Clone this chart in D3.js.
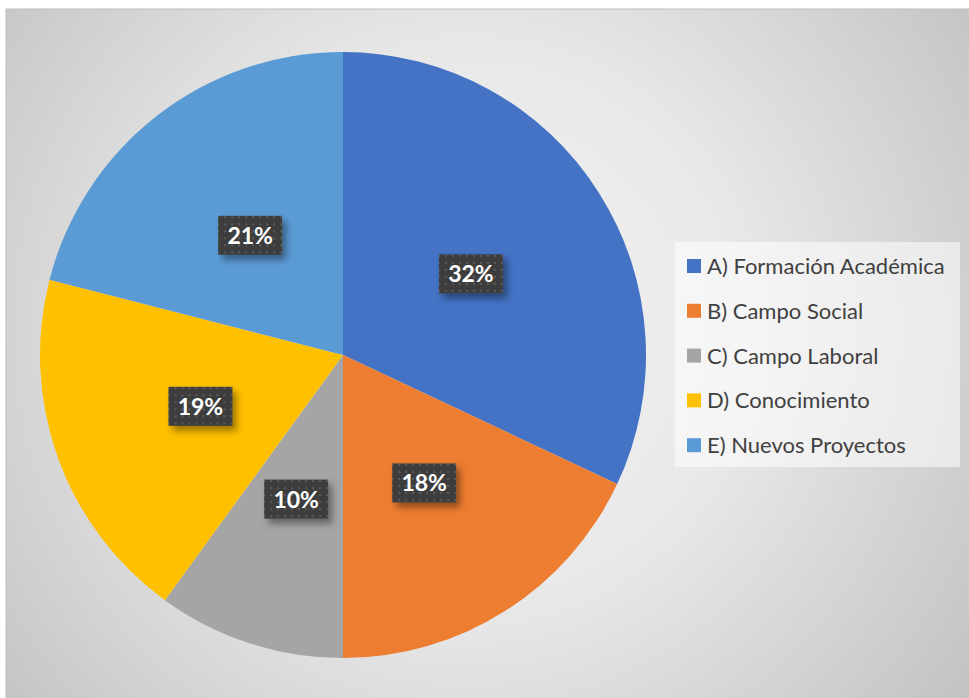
<!DOCTYPE html>
<html>
<head>
<meta charset="utf-8">
<script src="https://cdn.jsdelivr.net/npm/d3@7"></script>
<style>
  html, body { margin: 0; padding: 0; background: #ffffff; }
  svg { display: block; }
</style>
</head>
<body>
<div id="chart"></div>
<script>
// Chart data
const categories = ["A) Formación Académica", "B) Campo Social", "C) Campo Laboral", "D) Conocimiento", "E) Nuevos Proyectos"];
const percentages = [32, 18, 10, 19, 21];
const colors = ["#4472C4", "#ED7D31", "#A5A5A5", "#FFC000", "#5B9BD5"];

const width = 969, height = 698;
const frame = { x: 6, y: 9, w: 970, h: 700 };
const cx = 343, cy = 355, radius = 303;

const svg = d3.select("#chart").append("svg")
  .attr("width", width)
  .attr("height", height);

const defs = svg.append("defs");

// background gradient
const bg = defs.append("radialGradient")
  .attr("id", "bg-grad")
  .attr("gradientUnits", "userSpaceOnUse")
  .attr("cx", 470).attr("cy", 330).attr("r", 620);
bg.append("stop").attr("offset", "0%").attr("stop-color", "#f4f4f4");
bg.append("stop").attr("offset", "45%").attr("stop-color", "#e8e8e8");
bg.append("stop").attr("offset", "100%").attr("stop-color", "#c2c2c2");

// dotted pattern for the data label boxes
const pat = defs.append("pattern")
  .attr("id", "dots")
  .attr("patternUnits", "userSpaceOnUse")
  .attr("width", 7).attr("height", 7);
pat.append("rect").attr("width", 7).attr("height", 7).attr("fill", "#3e3e3e");
pat.append("rect").attr("x", 2).attr("y", 2).attr("width", 2).attr("height", 2).attr("fill", "#5a5a5a");

const shadow = defs.append("filter")
  .attr("id", "shadow")
  .attr("x", "-30%").attr("y", "-30%").attr("width", "170%").attr("height", "170%");
shadow.append("feDropShadow")
  .attr("dx", 4).attr("dy", 5).attr("stdDeviation", 3.5)
  .attr("flood-color", "#000").attr("flood-opacity", 0.4);

svg.append("rect")
  .attr("x", frame.x).attr("y", frame.y)
  .attr("width", frame.w).attr("height", frame.h)
  .attr("fill", "url(#bg-grad)")
  .attr("stroke", "#bdbdbd")
  .attr("stroke-width", 1);

// Pie
const pie = d3.pie().sort(null).value(d => d.value);
const arcs = pie(categories.map((c, i) => ({ name: c, value: percentages[i], color: colors[i] })));
const arc = d3.arc().innerRadius(0).outerRadius(radius);

const g = svg.append("g").attr("transform", `translate(${cx},${cy})`);

g.selectAll("path.slice")
  .data(arcs)
  .enter()
  .append("path")
  .attr("class", "slice")
  .attr("d", arc)
  .attr("fill", d => d.data.color);

// data labels
const boxW = 64, boxH = 39;
const labels = g.selectAll("g.label")
  .data(arcs)
  .enter()
  .append("g")
  .attr("class", "label")
  .attr("transform", d => {
    const [x, y] = arc.centroid(d);
    return `translate(${x},${y})`;
  });

labels.append("rect")
  .attr("x", -boxW / 2).attr("y", -boxH / 2)
  .attr("width", boxW).attr("height", boxH)
  .attr("fill", "url(#dots)")
  .attr("filter", "url(#shadow)");

labels.append("text")
  .attr("text-anchor", "middle")
  .attr("dy", "0.37em")
  .attr("fill", "#ffffff")
  .style("font-family", "Lato, 'Open Sans', sans-serif")
  .style("font-weight", "bold")
  .style("font-size", "23px")
  .text(d => d.data.value + "%");

// Legend
const legend = svg.append("g");
legend.append("rect")
  .attr("x", 675).attr("y", 242)
  .attr("width", 285).attr("height", 225)
  .attr("fill", "#ffffff")
  .attr("fill-opacity", 0.55);

const rows = legend.selectAll("g.row")
  .data(categories)
  .enter()
  .append("g")
  .attr("class", "row")
  .attr("transform", (d, i) => `translate(687,${266 + i * 44.8})`);

rows.append("rect")
  .attr("x", 0).attr("y", -7)
  .attr("width", 14).attr("height", 14)
  .attr("fill", (d, i) => colors[i]);

rows.append("text")
  .attr("x", 20)
  .attr("dy", "0.36em")
  .attr("fill", "#404040")
  .style("font-family", "Lato, 'Open Sans', sans-serif")
  .style("font-size", "22px")
  .text(d => d);
</script>
</body>
</html>
